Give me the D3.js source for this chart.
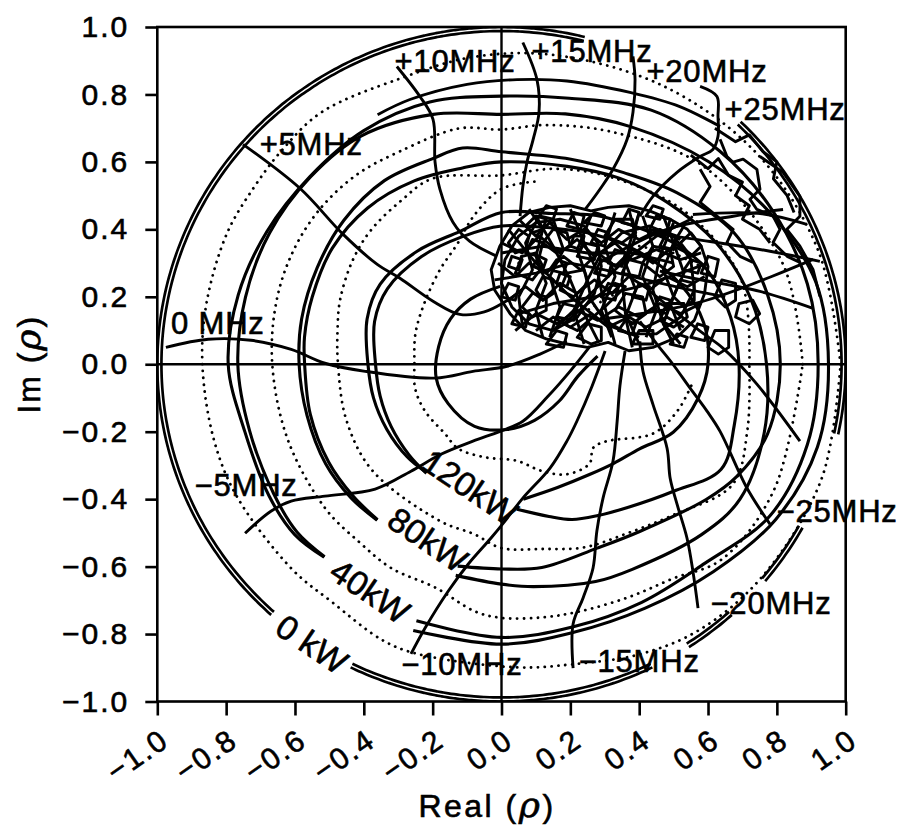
<!DOCTYPE html>
<html>
<head>
<meta charset="utf-8">
<script src="https://cdn.jsdelivr.net/npm/d3@7"></script>
<style>
  body { margin: 0; background: #fff; }
  svg text { font-family: "Liberation Sans", Arial, sans-serif; fill: #000; stroke: #000; stroke-width: 0.6px; }
</style>
</head>
<body>
<svg id="chart" width="907" height="834"></svg>
<script>
// ---------- axes ----------
const xTicks = [-1, -0.8, -0.6, -0.4, -0.2, 0, 0.2, 0.4, 0.6, 0.8, 1];
const xTickLabels = ["\u22121.0", "\u22120.8", "\u22120.6", "\u22120.4", "\u22120.2", "0.0", "0.2", "0.4", "0.6", "0.8", "1.0"];
const yTicks = [-1, -0.8, -0.6, -0.4, -0.2, 0, 0.2, 0.4, 0.6, 0.8, 1];
const yTickLabels = ["\u22121.0", "\u22120.8", "\u22120.6", "\u22120.4", "\u22120.2", "0.0", "0.2", "0.4", "0.6", "0.8", "1.0"];

// ---------- 0 kW contour (|rho| = 1), visible arcs in degrees ----------
const zeroKwArcs = [[-12, 46], [76, 228], [244, 296], [303, 312], [320, 331]];
const zeroKwRadii = [1.0, 0.988];

// ---------- constant-power contours, [angle deg, |rho|] along each line ----------
const p40a = [[252,0.80],[270,0.81],[285,0.806],[300,0.815],[315,0.835],[330,0.90],[345,0.92],[0,0.92],[15,0.92],[30,0.91],[45,0.895],[60,0.87],[76,0.813],[90,0.795],[105,0.805],[120,0.80],[135,0.787],[150,0.787],[165,0.792],[180,0.794],[195,0.772],[210,0.78],[220,0.785],[228,0.77]];
const p40b = [[252,0.83],[270,0.83],[285,0.822],[300,0.835],[315,0.87],[330,0.92],[345,0.95],[0,0.95],[15,0.945],[30,0.90],[45,0.85],[62,0.798],[76,0.765],[90,0.741],[105,0.767],[121,0.79],[135,0.785],[150,0.778],[165,0.77],[180,0.766],[195,0.758],[210,0.765],[220,0.775],[228,0.768]];
const p80a = [[258,0.612],[270,0.607],[281,0.614],[297,0.612],[309,0.638],[326,0.717],[334,0.76],[345,0.80],[0,0.81],[15,0.80],[30,0.78],[45,0.72],[58,0.67],[72,0.64],[90,0.63],[100,0.651],[108,0.642],[122,0.642],[137,0.626],[152,0.607],[167,0.596],[180,0.588],[195,0.585],[210,0.59],[222,0.59],[232,0.587]];
const p80b = [[258,0.64],[270,0.652],[278,0.666],[293,0.70],[302,0.717],[319,0.77],[330,0.80],[345,0.79],[0,0.77],[15,0.75],[30,0.72],[45,0.68],[58,0.65],[72,0.617],[90,0.60],[101,0.593],[115,0.60],[130,0.605],[145,0.60],[160,0.585],[172,0.578],[180,0.572],[195,0.575],[210,0.58],[222,0.582],[232,0.585]];
const p120a = [[276,0.432],[287,0.472],[294,0.504],[302,0.529],[311,0.562],[323,0.626],[334,0.71],[345,0.70],[0,0.69],[12,0.68],[25,0.66],[35,0.62],[45,0.57],[58,0.52],[72,0.47],[90,0.45],[107,0.412],[126,0.415],[146,0.425],[161,0.413],[180,0.388],[195,0.385],[210,0.385],[225,0.388],[235,0.388]];
const p120b = [[279,0.405],[294,0.40],[308,0.415],[318,0.439],[328,0.473],[338,0.538],[350,0.58],[0,0.60],[12,0.60],[25,0.57],[40,0.52],[55,0.47],[70,0.43],[90,0.41],[107,0.395],[126,0.395],[146,0.40],[161,0.39],[180,0.366],[195,0.365],[210,0.37],[225,0.38],[236,0.39]];
const p160 = [[91,0.231],[115,0.213],[138,0.20],[164,0.19],[192,0.194],[217,0.194],[247,0.20],[275,0.194],[300,0.192],[327,0.20],[351,0.225],[5,0.28]];

// intermediate (dotted) power contours
const d20 = [[0,0.985],[20,0.98],[40,0.97],[60,0.95],[80,0.93],[95,0.915],[109,0.897],[125,0.912],[135,0.90],[144,0.89],[154,0.887],[168,0.876],[180,0.869],[195,0.865],[207,0.863],[225,0.86],[235,0.86],[247,0.888],[254,0.893],[273,0.90],[283,0.913],[295,0.949],[306,0.975],[320,0.985],[340,0.99],[360,0.985]];
const d60 = [[0,0.875],[20,0.87],[45,0.83],[65,0.76],[80,0.72],[90,0.696],[100,0.71],[115,0.697],[127,0.702],[139,0.70],[151,0.692],[164,0.68],[180,0.666],[200,0.66],[220,0.667],[232,0.67],[242,0.684],[254,0.69],[264,0.737],[270,0.752],[279,0.76],[287,0.767],[298,0.783],[308,0.807],[318,0.863],[335,0.875],[360,0.875]];
const d100 = [[0,0.72],[20,0.74],[40,0.70],[60,0.64],[75,0.60],[90,0.56],[110,0.586],[121,0.566],[134,0.549],[145,0.53],[158,0.506],[168,0.487],[180,0.475],[200,0.48],[220,0.49],[249,0.498],[261,0.51],[270,0.545],[282,0.56],[294,0.594],[306,0.62],[318,0.669],[332,0.76],[345,0.74],[360,0.72]];
const d140 = [[80,0.55],[90,0.52],[100,0.45],[110,0.378],[122,0.334],[140,0.29],[160,0.266],[180,0.253],[196,0.261],[212,0.262],[232,0.264],[243,0.28],[260,0.28],[279,0.29],[290,0.336],[300,0.377],[311,0.39],[317,0.364],[323,0.38],[335,0.486],[345,0.53],[355,0.56]];

// ---------- constant-frequency lines, [Re, Im] ----------
const f0 = [[-0.975,0.05],[-0.852,0.074],[-0.728,0.071],[-0.611,0.044],[-0.513,0.003],[-0.396,-0.021],[-0.193,-0.041],[-0.083,-0.021],[0.016,-0.006],[0.112,0.03],[0.19,0.068]];
const fp5 = [[-0.751,0.652],[-0.585,0.521],[-0.46,0.385],[-0.361,0.296],[-0.295,0.255],[-0.199,0.187],[-0.121,0.148],[-0.05,0.155],[0.01,0.185],[0.06,0.22]];
const fp10 = [[-0.304,0.883],[-0.237,0.794],[-0.199,0.726],[-0.193,0.599],[-0.179,0.519],[-0.141,0.421],[-0.092,0.364],[-0.013,0.32]];
const fp15 = [[0.062,0.954],[0.103,0.844],[0.109,0.747],[0.092,0.667],[0.074,0.599],[0.062,0.527],[0.054,0.439]];
const fp20 = [[0.382,0.913],[0.388,0.844],[0.382,0.747],[0.365,0.667],[0.324,0.578],[0.286,0.519],[0.243,0.459]];
const fp25 = [[0.577,0.824],[0.626,0.794],[0.629,0.735],[0.629,0.676],[0.614,0.637],[0.577,0.616],[0.51,0.569],[0.44,0.498],[0.402,0.439]];
const fm5 = [[-0.745,-0.501],[-0.67,-0.436],[-0.611,-0.406],[-0.513,-0.391],[-0.367,-0.37],[-0.263,-0.317],[-0.176,-0.267],[-0.083,-0.228],[-0.004,-0.199],[0.062,-0.169],[0.135,-0.095],[0.199,-0.021],[0.257,0.053]];
const fm10 = [[-0.263,-0.859],[-0.222,-0.782],[-0.155,-0.673],[-0.097,-0.593],[-0.031,-0.516],[0.01,-0.465],[0.062,-0.397],[0.141,-0.308],[0.19,-0.228],[0.219,-0.169],[0.263,-0.065],[0.301,0.039]];
const fm15 = [[0.208,-0.901],[0.208,-0.77],[0.237,-0.693],[0.266,-0.604],[0.277,-0.495],[0.295,-0.397],[0.324,-0.287],[0.336,-0.169],[0.344,-0.065],[0.359,0.039]];
const fm20 = [[0.571,-0.723],[0.556,-0.613],[0.539,-0.516],[0.51,-0.415],[0.49,-0.338],[0.481,-0.249],[0.44,-0.119],[0.411,-0.021],[0.402,0.068]];
const fm25 = [[0.78,-0.474],[0.713,-0.367],[0.635,-0.199],[0.597,-0.139],[0.548,-0.071],[0.498,0],[0.452,0.059],[0.402,0.127]];

// lines leaving the high-power region towards the right rim
const rimLines = [
  [[-0.36,0.74],[-0.266,0.785],[-0.1,0.83],[0.045,0.844],[0.19,0.84],[0.373,0.806],[0.518,0.764],[0.635,0.705]],
  [[0.431,0.216],[0.577,0.098],[0.644,0.047],[0.742,-0.059],[0.867,-0.228]],
  [[0.46,0.276],[0.556,0.255],[0.751,0.216],[0.905,0.166]],
  [[0.46,0.385],[0.606,0.364],[0.78,0.335],[0.925,0.305]],
  [[0.556,0.444],[0.751,0.447],[0.887,0.415]],
  [[0.286,0.302],[0.48,0.4],[0.673,0.439],[0.818,0.459]],
  [[0.286,0.133],[0.577,0.184],[0.905,0.311]]
];

// ragged contour pieces in the upper-right quadrant
const raggedLines = [
  [[0.635,0.667],[0.655,0.616],[0.673,0.599],[0.702,0.608],[0.742,0.578],[0.751,0.519],[0.722,0.489],[0.742,0.459],[0.789,0.439],[0.809,0.4],[0.789,0.361],[0.83,0.32],[0.867,0.302]],
  [[0.751,0.616],[0.818,0.569],[0.867,0.498],[0.867,0.439],[0.829,0.4],[0.867,0.35],[0.905,0.281],[0.925,0.201]],
  [[0.577,0.578],[0.606,0.527],[0.577,0.48],[0.626,0.439],[0.673,0.4],[0.655,0.361],[0.693,0.32],[0.731,0.302]],
  [[0.55,0.62],[0.6,0.58],[0.63,0.61],[0.66,0.56],[0.7,0.54],[0.68,0.5],[0.72,0.47],[0.7,0.43],[0.75,0.4],[0.78,0.36]],
  [[0.62,0.7],[0.68,0.66],[0.72,0.68],[0.76,0.63],[0.8,0.6],[0.79,0.55],[0.83,0.5],[0.85,0.45]]
];

// tangled contours around the power maximum
const blobLoops = [
  [[-0.02,0.22],[-0.03,0.28],[-0.005,0.35],[0.03,0.41],[0.08,0.45],[0.14,0.465],[0.2,0.47],[0.26,0.455],[0.31,0.465],[0.37,0.47],[0.43,0.455],[0.49,0.43],[0.54,0.40],[0.58,0.35],[0.60,0.29],[0.59,0.21],[0.56,0.13],[0.51,0.08],[0.44,0.05],[0.37,0.04],[0.31,0.065],[0.25,0.05],[0.19,0.06],[0.13,0.075],[0.07,0.10],[0.025,0.15]],
  [[0.0,0.24],[0.01,0.31],[0.05,0.38],[0.1,0.42],[0.17,0.43],[0.24,0.41],[0.28,0.36],[0.29,0.29],[0.27,0.21],[0.22,0.14],[0.15,0.10],[0.08,0.12],[0.03,0.17]],
  [[0.25,0.25],[0.29,0.33],[0.35,0.39],[0.43,0.41],[0.5,0.38],[0.55,0.31],[0.56,0.22],[0.52,0.14],[0.45,0.09],[0.37,0.09],[0.3,0.13],[0.26,0.19]],
  [[0.04,0.27],[0.06,0.32],[0.1,0.33],[0.12,0.29],[0.09,0.25]],
  [[0.12,0.36],[0.15,0.40],[0.19,0.39],[0.2,0.35],[0.16,0.33]],
  [[0.06,0.17],[0.09,0.21],[0.13,0.2],[0.13,0.16],[0.09,0.14]],
  [[0.17,0.22],[0.19,0.27],[0.24,0.28],[0.25,0.24],[0.21,0.2]],
  [[0.3,0.38],[0.33,0.43],[0.38,0.43],[0.39,0.39],[0.35,0.36]],
  [[0.41,0.3],[0.44,0.35],[0.49,0.34],[0.5,0.29],[0.46,0.26]],
  [[0.33,0.16],[0.36,0.21],[0.41,0.2],[0.42,0.15],[0.38,0.12]],
  [[0.46,0.13],[0.48,0.18],[0.53,0.18],[0.54,0.14],[0.5,0.11]],
  [[0.22,0.08],[0.25,0.12],[0.29,0.11],[0.29,0.07],[0.26,0.06]],
  [[0.02,0.36],[0.05,0.40],[0.08,0.38],[0.07,0.34],[0.04,0.33]],
  [[0.24,0.42],[0.27,0.45],[0.3,0.44],[0.29,0.41]],
  [[0.52,0.36],[0.55,0.39],[0.58,0.35],[0.55,0.32]],
  [[0.62,0.2],[0.64,0.25],[0.68,0.24],[0.68,0.19],[0.65,0.17]],
  [[0.68,0.14],[0.69,0.18],[0.73,0.19],[0.75,0.15],[0.72,0.12]],
  [[0.6,0.05],[0.62,0.1],[0.66,0.1],[0.66,0.05],[0.63,0.03]],
  [[0.14,0.28],[0.16,0.31],[0.19,0.3],[0.18,0.27]],
  [[0.35,0.27],[0.37,0.31],[0.41,0.3],[0.4,0.26]],
  [[0.18,0.12],[0.25,0.18],[0.33,0.24],[0.36,0.23],[0.3,0.17],[0.22,0.1]],
  [[0.0,0.2],[0.02,0.24],[0.05,0.23],[0.04,0.19]],
  [[0.07,0.41],[0.1,0.44],[0.13,0.43],[0.12,0.4],[0.09,0.39]],
  [[0.19,0.41],[0.21,0.45],[0.24,0.44],[0.23,0.4]],
  [[0.22,0.32],[0.24,0.36],[0.28,0.35],[0.27,0.31]],
  [[0.1,0.22],[0.12,0.26],[0.15,0.25],[0.15,0.21],[0.12,0.19]],
  [[0.02,0.29],[0.03,0.32],[0.06,0.31],[0.05,0.28]],
  [[0.16,0.14],[0.18,0.18],[0.22,0.17],[0.21,0.13]],
  [[0.31,0.3],[0.33,0.34],[0.36,0.33],[0.35,0.29]],
  [[0.43,0.4],[0.45,0.44],[0.49,0.43],[0.48,0.39]],
  [[0.38,0.06],[0.4,0.1],[0.44,0.1],[0.44,0.06]],
  [[0.5,0.2],[0.52,0.25],[0.56,0.24],[0.56,0.19],[0.53,0.17]],
  [[0.29,0.2],[0.31,0.24],[0.34,0.23],[0.33,0.19]],
  [[0.55,0.08],[0.57,0.12],[0.6,0.11],[0.59,0.07]],
  [[0.26,0.36],[0.28,0.4],[0.31,0.39],[0.3,0.35]],
  [[0.44,0.16],[0.46,0.2],[0.49,0.19],[0.48,0.15]],
  [[0.58,0.27],[0.6,0.32],[0.63,0.31],[0.62,0.26]],
  [[0.07,0.33],[0.09,0.37],[0.12,0.36],[0.11,0.32]],
  [[0.35,0.42],[0.37,0.46],[0.4,0.45],[0.39,0.41]],
  [[0.13,0.06],[0.16,0.1],[0.19,0.09],[0.18,0.05]],
  [[0.03,0.12],[0.05,0.16],[0.08,0.15],[0.07,0.11]],
  [[0.11,0.44],[0.13,0.47],[0.16,0.46],[0.15,0.43]],
  [[0.27,0.27],[0.29,0.31],[0.32,0.3],[0.31,0.26]],
  [[0.2,0.35],[0.21,0.38],[0.24,0.38],[0.23,0.34]],
  [[0.38,0.2],[0.4,0.24],[0.43,0.23],[0.42,0.19]],
  [[0.46,0.35],[0.48,0.39],[0.51,0.38],[0.5,0.34]],
  [[0.53,0.28],[0.55,0.31],[0.58,0.3],[0.57,0.27]],
  [[0.34,0.1],[0.36,0.13],[0.39,0.12],[0.38,0.09]],
  [[0.49,0.06],[0.51,0.09],[0.54,0.08],[0.53,0.05]],
  [[0.09,0.29],[0.11,0.32],[0.13,0.31],[0.12,0.28]],
  [[0.16,0.24],[0.17,0.27],[0.2,0.26],[0.19,0.23]],
  [[0.42,0.44],[0.44,0.47],[0.47,0.46],[0.46,0.43]]
];
const blobStrands = [
  [[-0.02,0.25],[0.1,0.27],[0.2,0.3],[0.3,0.28],[0.42,0.25],[0.55,0.22],[0.65,0.2]],
  [[0.0,0.33],[0.12,0.35],[0.25,0.33],[0.38,0.33],[0.5,0.3]],
  [[0.05,0.15],[0.15,0.18],[0.27,0.2],[0.4,0.23],[0.52,0.27],[0.6,0.3]],
  [[0.1,0.44],[0.15,0.35],[0.2,0.25],[0.24,0.15],[0.28,0.07]],
  [[0.2,0.46],[0.24,0.36],[0.28,0.27],[0.3,0.17],[0.33,0.06]],
  [[0.4,0.45],[0.37,0.35],[0.35,0.25],[0.36,0.15],[0.4,0.06]],
  [[0.5,0.42],[0.46,0.32],[0.44,0.22],[0.47,0.12],[0.52,0.06]],
  [[0.02,0.4],[0.1,0.3],[0.2,0.2],[0.3,0.12],[0.4,0.08]],
  [[0.15,0.1],[0.25,0.2],[0.35,0.3],[0.45,0.38],[0.55,0.43]],
  [[-0.01,0.3],[0.04,0.26],[0.08,0.3],[0.13,0.27],[0.18,0.32],[0.23,0.28],[0.28,0.33],[0.33,0.29],[0.38,0.34],[0.44,0.3],[0.5,0.35],[0.56,0.32]],
  [[0.02,0.19],[0.07,0.23],[0.12,0.19],[0.17,0.24],[0.22,0.21],[0.27,0.25],[0.32,0.21],[0.37,0.26],[0.43,0.22],[0.48,0.26],[0.54,0.23],[0.59,0.26]],
  [[0.05,0.43],[0.1,0.38],[0.14,0.42],[0.19,0.37],[0.24,0.4],[0.29,0.36],[0.34,0.4],[0.4,0.37],[0.46,0.4],[0.52,0.37]],
  [[0.1,0.1],[0.15,0.14],[0.2,0.11],[0.26,0.15],[0.31,0.11],[0.37,0.14],[0.42,0.11],[0.48,0.14],[0.53,0.11]],
  [[0.06,0.12],[0.05,0.2],[0.09,0.28],[0.07,0.36],[0.11,0.44]],
  [[0.14,0.08],[0.17,0.17],[0.14,0.26],[0.18,0.34],[0.15,0.43]],
  [[0.24,0.06],[0.21,0.16],[0.25,0.25],[0.22,0.34],[0.26,0.44]],
  [[0.32,0.08],[0.29,0.16],[0.33,0.26],[0.3,0.35],[0.33,0.45]],
  [[0.42,0.08],[0.45,0.16],[0.41,0.26],[0.44,0.35],[0.41,0.44]],
  [[0.52,0.1],[0.49,0.18],[0.53,0.27],[0.5,0.36],[0.53,0.41]],
  [[0.0,0.36],[0.06,0.33],[0.11,0.38],[0.17,0.33],[0.22,0.37],[0.27,0.32],[0.33,0.36],[0.38,0.31],[0.45,0.34],[0.52,0.31],[0.58,0.33]],
  [[0.04,0.1],[0.1,0.15],[0.16,0.12],[0.22,0.16],[0.28,0.13],[0.34,0.17],[0.4,0.14],[0.46,0.18],[0.52,0.15],[0.58,0.18]],
  [[0.08,0.46],[0.12,0.4],[0.1,0.32],[0.13,0.24],[0.1,0.16],[0.12,0.08]],
  [[0.37,0.46],[0.39,0.38],[0.36,0.3],[0.39,0.22],[0.36,0.14],[0.38,0.05]],
  [[0.47,0.44],[0.5,0.36],[0.47,0.28],[0.5,0.2],[0.47,0.12],[0.5,0.06]]
];
const blobDotted = [
  [[0.22,0.14],[0.28,0.18],[0.35,0.22]],
  [[0.4,0.35],[0.5,0.33],[0.6,0.28]],
  [[0.05,0.3],[0.08,0.38],[0.15,0.42]]
];

// ---------- contour labels ----------
const kwLabels = [
  { text: "0 kW", at: [-0.551, -0.83] },
  { text: "40kW", at: [-0.382, -0.673] },
  { text: "80kW", at: [-0.214, -0.52] },
  { text: "120kW", at: [-0.092, -0.364] }
];
const mhzLabels = [
  { text: "0 MHz", at: [-0.824, 0.121] },
  { text: "+5MHz", at: [-0.553, 0.652] },
  { text: "+10MHz", at: [-0.135, 0.898] },
  { text: "+15MHz", at: [0.263, 0.927] },
  { text: "+20MHz", at: [0.597, 0.868] },
  { text: "+25MHz", at: [0.824, 0.756] },
  { text: "\u22125MHz", at: [-0.742, -0.361] },
  { text: "\u221210MHz", at: [-0.115, -0.889] },
  { text: "\u221215MHz", at: [0.4, -0.88] },
  { text: "\u221220MHz", at: [0.783, -0.708] },
  { text: "\u221225MHz", at: [0.975, -0.436] }
];

// ---------- drawing ----------
const svg = d3.select("#chart");
const x = d3.scaleLinear().domain([-1, 1]).range([157.3, 845.7]);
const y = d3.scaleLinear().domain([-1, 1]).range([701.5, 27]);

const rad = Math.PI / 180;
const polar = pts => pts.map(([a, r]) => [r * Math.cos(a * rad), r * Math.sin(a * rad)]);

const smooth = d3.line().x(d => x(d[0])).y(d => y(d[1])).curve(d3.curveCatmullRom.alpha(0.5));
const ragged = d3.line().x(d => x(d[0])).y(d => y(d[1])).curve(d3.curveLinear);
const raggedClosed = d3.line().x(d => x(d[0])).y(d => y(d[1])).curve(d3.curveLinearClosed);

svg.append("defs").append("clipPath").attr("id", "plotClip")
  .append("rect")
  .attr("x", x(-1)).attr("y", y(1))
  .attr("width", x(1) - x(-1)).attr("height", y(-1) - y(1));

const plot = svg.append("g").attr("clip-path", "url(#plotClip)");

// dotted contours
const dotted = plot.append("g")
  .attr("fill", "none").attr("stroke", "#000")
  .attr("stroke-width", 2.8).attr("stroke-linecap", "round")
  .attr("stroke-dasharray", "0.1 6.8");
[d20, d60, d100, d140].forEach(c => dotted.append("path").attr("d", smooth(polar(c))));
blobDotted.forEach(c => dotted.append("path").attr("d", ragged(c)));

// 0 kW rim (double line)
const rim = plot.append("g").attr("fill", "none").attr("stroke", "#000").attr("stroke-width", 2.7);
zeroKwRadii.forEach(r => {
  zeroKwArcs.forEach(([a0, a1]) => {
    const pts = d3.range(a0, a1 + 0.01, 1).map(a => [r * Math.cos(a * rad), r * Math.sin(a * rad)]);
    rim.append("path").attr("d", smooth(pts));
  });
});

// solid power contours
const solid = plot.append("g").attr("fill", "none").attr("stroke", "#000")
  .attr("stroke-width", 3.1).attr("stroke-linejoin", "round");
[p40a, p40b, p80a, p80b, p120a, p120b, p160].forEach(c => solid.append("path").attr("d", smooth(polar(c))));

// frequency lines
const freq = plot.append("g").attr("fill", "none").attr("stroke", "#000")
  .attr("stroke-width", 2.9).attr("stroke-linejoin", "round");
[f0, fp5, fp10, fp15, fp20, fp25, fm5, fm10, fm15, fm20, fm25].forEach(c => freq.append("path").attr("d", smooth(c)));
rimLines.forEach(c => freq.append("path").attr("d", smooth(c)));

// ragged contours and the tangle at the maximum
const tangle = plot.append("g").attr("fill", "none").attr("stroke", "#000")
  .attr("stroke-width", 2.9).attr("stroke-linejoin", "round");
raggedLines.forEach(c => tangle.append("path").attr("d", ragged(c)));
blobLoops.forEach(c => tangle.append("path").attr("d", raggedClosed(c)));
blobStrands.forEach(c => tangle.append("path").attr("d", ragged(c)));

// zero lines
plot.append("line").attr("x1", x(-1)).attr("x2", x(1)).attr("y1", y(0)).attr("y2", y(0))
  .attr("stroke", "#000").attr("stroke-width", 2.4);
plot.append("line").attr("x1", x(0)).attr("x2", x(0)).attr("y1", y(1)).attr("y2", y(-1))
  .attr("stroke", "#000").attr("stroke-width", 2.4);

// frame
svg.append("rect")
  .attr("x", x(-1)).attr("y", y(1))
  .attr("width", x(1) - x(-1)).attr("height", y(-1) - y(1))
  .attr("fill", "none").attr("stroke", "#000").attr("stroke-width", 2.6);

// axes
const yAxis = svg.append("g").attr("transform", `translate(${x(-1)},0)`)
  .call(d3.axisLeft(y).tickValues(yTicks).tickSizeInner(12).tickSizeOuter(0).tickPadding(16)
    .tickFormat((d, i) => yTickLabels[i]));
const xAxis = svg.append("g").attr("transform", `translate(0,${y(-1)})`)
  .call(d3.axisBottom(x).tickValues(xTicks).tickSizeInner(14).tickSizeOuter(0)
    .tickFormat((d, i) => xTickLabels[i]));
[yAxis, xAxis].forEach(g => {
  g.select(".domain").remove();
  g.selectAll(".tick line").attr("stroke", "#000").attr("stroke-width", 2.6);
  g.selectAll(".tick text").attr("font-family", "Liberation Sans, Arial, sans-serif")
    .attr("font-size", 30).attr("letter-spacing", 2).attr("fill", "#000");
});
xAxis.selectAll(".tick text")
  .attr("x", 0).attr("y", 0).attr("dy", 0)
  .attr("text-anchor", "end")
  .attr("transform", "translate(13,43) rotate(-35)");

// axis titles
const yTitle = svg.append("text")
  .attr("transform", `translate(40,${y(0)}) rotate(-90)`)
  .attr("text-anchor", "middle").attr("font-size", 32).attr("letter-spacing", 2);
yTitle.append("tspan").text("Im (");
yTitle.append("tspan").attr("font-style", "italic").attr("font-family", "DejaVu Serif, serif").attr("font-size", 36).text("\u03c1");
yTitle.append("tspan").text(")");

const xTitle = svg.append("text")
  .attr("x", 487).attr("y", 817)
  .attr("text-anchor", "middle").attr("font-size", 32).attr("letter-spacing", 2.5);
xTitle.append("tspan").text("Real (");
xTitle.append("tspan").attr("font-style", "italic").attr("font-family", "DejaVu Serif, serif").attr("font-size", 36).text("\u03c1");
xTitle.append("tspan").text(")");

// contour labels
svg.append("g").selectAll("text").data(mhzLabels).join("text")
  .attr("x", d => x(d.at[0])).attr("y", d => y(d.at[1]))
  .attr("text-anchor", "middle").attr("dominant-baseline", "central")
  .attr("font-size", 31).attr("letter-spacing", 0.8)
  .text(d => d.text);
svg.append("g").selectAll("text").data(kwLabels).join("text")
  .attr("transform", d => `translate(${x(d.at[0])},${y(d.at[1])}) rotate(34)`)
  .attr("text-anchor", "middle").attr("dominant-baseline", "central")
  .attr("font-size", 34)
  .text(d => d.text);
</script>
</body>
</html>
